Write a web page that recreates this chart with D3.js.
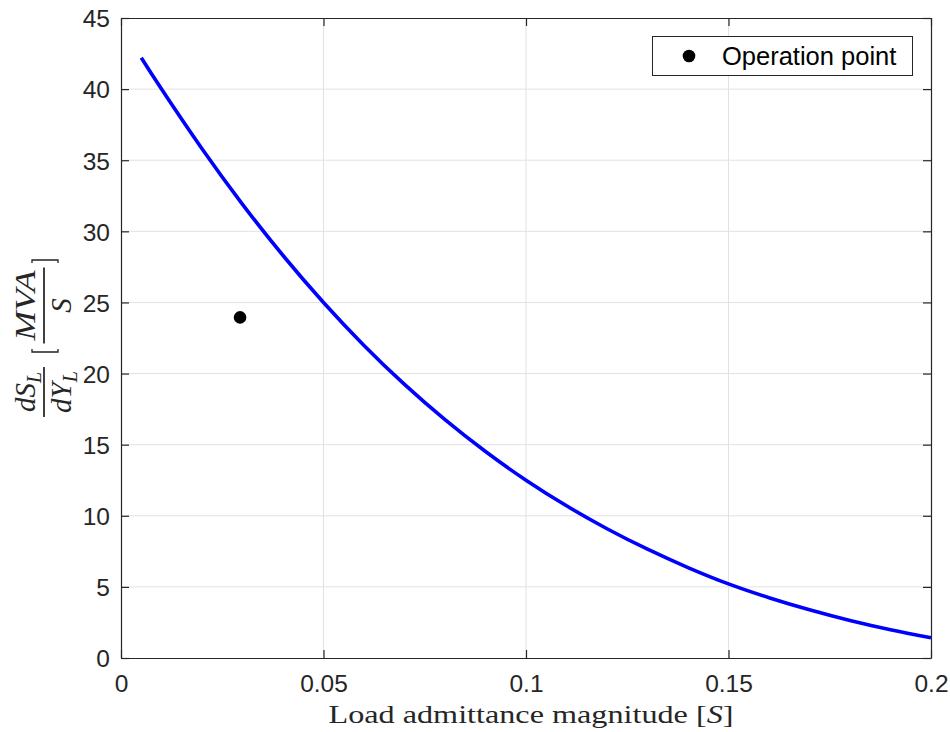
<!DOCTYPE html>
<html>
<head>
<meta charset="utf-8">
<script src="https://cdn.jsdelivr.net/npm/d3@7"></script>
<style>
  html, body { margin: 0; padding: 0; background: #fff; }
  svg { display: block; }
</style>
</head>
<body>
<svg id="chart" width="950" height="732"></svg>
<script>
// Sensitivity of delivered power to load admittance
const admittance = [0.005, 0.01, 0.02, 0.03, 0.04, 0.05, 0.06, 0.07, 0.08, 0.09, 0.10,
                    0.11, 0.12, 0.13, 0.14, 0.15, 0.16, 0.17, 0.18, 0.19, 0.20];
const sensitivity = [42.2, 40.0, 35.8, 31.9, 28.3, 25.0, 21.98, 19.24, 16.76, 14.52, 12.5,
                     10.7, 9.09, 7.65, 6.36, 5.21, 4.24, 3.39, 2.64, 1.99, 1.42];

// Operation point
const opX = [0.0294];
const opY = [23.95];

const xTicks = [0, 0.05, 0.1, 0.15, 0.2];
const xTickLabels = ["0", "0.05", "0.1", "0.15", "0.2"];
const yTicks = [0, 5, 10, 15, 20, 25, 30, 35, 40, 45];
const legendLabels = ["Operation point"];

const svg = d3.select("#chart");
const plotLeft = 121, plotRight = 931, plotTop = 18, plotBottom = 658;
const axisColor = "#262626";
const gridColor = "#e2e2e2";
const sans = "'Liberation Sans', Helvetica, Arial, sans-serif";
const serif = "'Liberation Serif', 'Times New Roman', serif";

const x = d3.scaleLinear().domain([0, 0.2]).range([plotLeft, plotRight]);
const y = d3.scaleLinear().domain([0, 45]).range([plotBottom, plotTop]);

// Grid
const grid = svg.append("g");
grid.selectAll(".gx").data(xTicks.slice(1, -1)).join("line")
  .attr("x1", d => x(d)).attr("x2", d => x(d))
  .attr("y1", plotTop).attr("y2", plotBottom)
  .attr("stroke", gridColor).attr("stroke-width", 1);
grid.selectAll(".gy").data(yTicks.slice(1, -1)).join("line")
  .attr("y1", d => y(d)).attr("y2", d => y(d))
  .attr("x1", plotLeft).attr("x2", plotRight)
  .attr("stroke", gridColor).attr("stroke-width", 1);

// Curve
const line = d3.line()
  .x((d, i) => x(admittance[i]))
  .y(d => y(d))
  .curve(d3.curveNatural);
svg.append("path")
  .datum(sensitivity)
  .attr("d", line)
  .attr("fill", "none")
  .attr("stroke", "#0000ff")
  .attr("stroke-width", 3.6)
  .attr("stroke-linejoin", "round");

// Operation point marker
svg.selectAll(".op").data(opX).join("circle")
  .attr("cx", d => x(d))
  .attr("cy", (d, i) => y(opY[i]))
  .attr("r", 6.3)
  .attr("fill", "#000");

// Axes (box with inward ticks on all four sides)
const tickLen = 8;
const axisFmt = a => a.tickSizeInner(-tickLen).tickSizeOuter(0).tickPadding(14);

const gBottom = svg.append("g").attr("transform", `translate(0,${plotBottom})`)
  .call(axisFmt(d3.axisBottom(x).tickValues(xTicks).tickFormat((d, i) => xTickLabels[i])));
const gTop = svg.append("g").attr("transform", `translate(0,${plotTop})`)
  .call(axisFmt(d3.axisTop(x).tickValues(xTicks).tickFormat("")));
const gLeft = svg.append("g").attr("transform", `translate(${plotLeft},0)`)
  .call(axisFmt(d3.axisLeft(y).tickValues(yTicks).tickFormat(d3.format("d"))));
const gRight = svg.append("g").attr("transform", `translate(${plotRight},0)`)
  .call(axisFmt(d3.axisRight(y).tickValues(yTicks).tickFormat("")));

[gBottom, gTop, gLeft, gRight].forEach(g => {
  g.select(".domain").attr("stroke", axisColor).attr("stroke-width", 1.2);
  g.selectAll(".tick line").attr("stroke", axisColor).attr("stroke-width", 1.2);
  g.selectAll(".tick text")
    .attr("fill", axisColor)
    .style("font-family", sans)
    .style("font-size", "24.5px");
});
gLeft.selectAll(".tick text").attr("x", -11).attr("dy", "0.36em");
gBottom.selectAll(".tick text").attr("y", 17).attr("dy", "0.71em");

// X axis label
const xl = svg.append("text")
  .attr("x", (plotLeft + plotRight) / 2 + 5)
  .attr("y", 723)
  .attr("text-anchor", "middle")
  .attr("fill", axisColor)
  .style("font-family", serif)
  .style("font-size", "26px");
xl.append("tspan").text("Load admittance magnitude [");
xl.append("tspan").attr("font-style", "italic").text("S");
xl.append("tspan").text("]");
xl.attr("textLength", 405).attr("lengthAdjust", "spacingAndGlyphs");

// Y axis label: dS_L/dY_L [MVA/S], rotated
const yl = svg.append("g").attr("transform", "translate(44,0) rotate(-90)");
const mathStyle = sel => sel
  .attr("fill", axisColor)
  .style("font-family", serif)
  .style("font-style", "italic")
  .style("font-size", "29px");

function fraction(g, cx, num, den, numLen) {
  const n = g.append("text").attr("x", cx).attr("y", -9)
    .attr("text-anchor", "middle").call(mathStyle);
  num.forEach(p => {
    const t = n.append("tspan").text(p[0]);
    if (p[1]) t.attr("font-size", "20px").attr("dy", 6);
  });
  if (numLen) n.attr("textLength", numLen).attr("lengthAdjust", "spacingAndGlyphs");
  const d = g.append("text").attr("x", cx).attr("y", 27)
    .attr("text-anchor", "middle").call(mathStyle);
  den.forEach(p => {
    const t = d.append("tspan").text(p[0]);
    if (p[1]) t.attr("font-size", "20px").attr("dy", 6);
  });
  return [n, d];
}

// First fraction: dS_L over dY_L
const f1 = -392;
fraction(yl, f1, [["dS"], ["L", true]], [["dY"], ["L", true]]);
yl.append("line").attr("x1", f1 - 25).attr("x2", f1 + 25).attr("y1", 0).attr("y2", 0)
  .attr("stroke", "#111").attr("stroke-width", 1.6);

// Brackets around second fraction
const bL = -352, bR = -260;
yl.append("path")
  .attr("d", `M${bL + 3},-12 L${bL},-12 L${bL},14 L${bL + 3},14`)
  .attr("fill", "none").attr("stroke", "#222").attr("stroke-width", 1.3);
yl.append("path")
  .attr("d", `M${bR - 3},-12 L${bR},-12 L${bR},14 L${bR - 3},14`)
  .attr("fill", "none").attr("stroke", "#222").attr("stroke-width", 1.3);

// Second fraction: MVA over S
const f2 = -305.5;
fraction(yl, f2, [["MVA"]], [["S"]], 70);
yl.append("line").attr("x1", f2 - 38).attr("x2", f2 + 38).attr("y1", 0).attr("y2", 0)
  .attr("stroke", "#111").attr("stroke-width", 1.6);

// Legend
const lg = svg.append("g");
lg.append("rect")
  .attr("x", 652.5).attr("y", 36.5).attr("width", 260).attr("height", 39)
  .attr("fill", "#fff").attr("stroke", axisColor).attr("stroke-width", 1);
lg.selectAll(".lm").data(legendLabels).join("circle")
  .attr("cx", 689).attr("cy", 56).attr("r", 6.3).attr("fill", "#000");
lg.selectAll(".lt").data(legendLabels).join("text")
  .attr("x", 722).attr("y", 65)
  .attr("fill", "#000")
  .style("font-family", sans)
  .style("font-size", "25.5px")
  .text(d => d);
</script>
</body>
</html>
